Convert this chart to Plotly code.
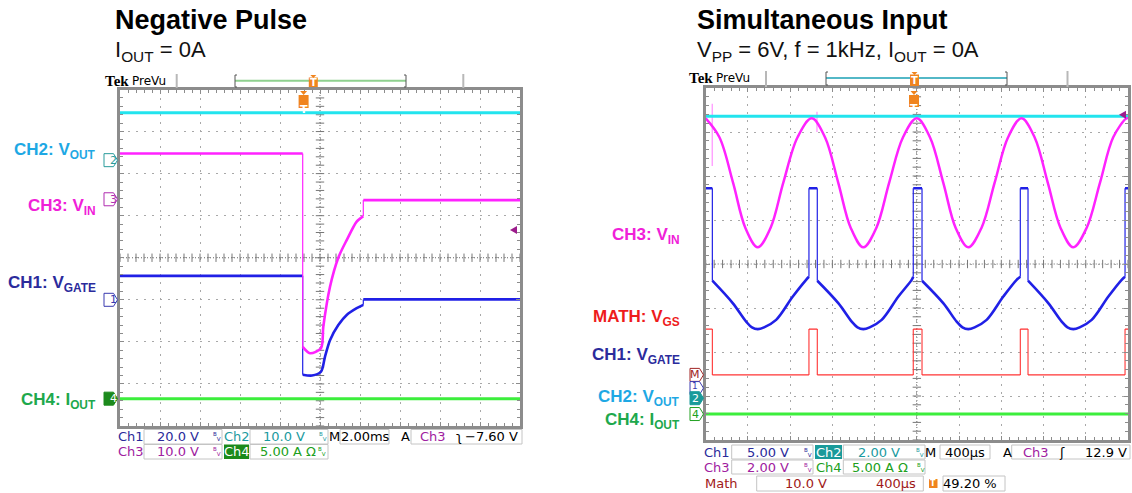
import numpy as np
import plotly.graph_objects as go

W, H = 1132, 493

# ================= DATA =================
# Left screen "Negative Pulse": time in ms from screen centre (2 ms/div), amplitude in screen divisions
L_VOUT_T = [-10.0, 10.0]
L_VOUT_Y = [3.45, 3.45]
L_VIN_T = [-10.0, -0.865, -0.865, -0.5, 0.05, 0.165, 0.5, 0.915, 1.335, 1.835, 2.165, 2.165, 10.0]
L_VIN_Y = [2.48, 2.48, -2.12, -2.27, -2.15, -1.64, -0.69, 0.0, 0.42, 0.86, 0.99, 1.37, 1.37]
L_VGATE_T = [-10.0, -0.865, -0.865, -0.4, 0.05, 0.25, 0.5, 0.915, 1.335, 1.835, 2.165, 2.165, 10.0]
L_VGATE_Y = [-0.43, -0.43, -2.78, -2.80, -2.71, -2.35, -1.96, -1.60, -1.36, -1.20, -1.12, -0.99, -0.99]
L_IOUT_T = [-10.0, 10.0]
L_IOUT_Y = [-3.35, -3.35]
L_MARK_TEXT = ["2", "3", "1", "4"]
L_MARK_Y = [2.32, 1.39, -1.0, -3.35]
L_TRIG_T = -0.82
L_TRIG_LEVEL = 0.66

# Right screen "Simultaneous Input": time in us from screen centre (400 us/div), amplitude in divisions
R_VOUT_T = [-2000, 2000]
R_VOUT_Y = [3.36, 3.36]
R_VIN_T = [-2000, -1870, -1741, -1624, -1507, -1386, -1265, -1130, -996, -870, -745, -626, -507, -384,
           -262, -131, -1, 124, 250, 368, 487, 612, 737, 864, 991, 1115, 1240, 1361, 1482, 1608,
           1735, 1860, 1986, 2000]
R_VIN_Y = [3.31, 2.88, 1.85, 0.82, 0.38, 0.82, 1.85, 2.88, 3.31, 2.88, 1.85, 0.82, 0.38, 0.82,
           1.85, 2.88, 3.31, 2.88, 1.85, 0.82, 0.38, 0.82, 1.85, 2.88, 3.31, 2.88, 1.85, 0.82, 0.38, 0.82,
           1.85, 2.88, 3.31, 3.30]
R_VIN_GLITCH_T = [-1938, -946]
R_VIN_GLITCH_TOP = [3.64, 3.46]
R_VIN_GLITCH_BOT = [2.23, 3.00]
R_VGATE_T = [-2000, -1937, -1937, -1744, -1617, -1562, -1507, -1447, -1333, -1175, -1049, -1022, -1022, -943,
             -943, -744, -617, -562, -507, -447, -333, -175, -49, -34, -34, 49,
             49, 250, 377, 432, 487, 547, 661, 819, 945, 980, 980, 1053,
             1053, 1245, 1372, 1427, 1482, 1542, 1656, 1814, 1940, 1972, 1972, 2000]
R_VGATE_Y = [1.72, 1.72, -0.38, -0.89, -1.31, -1.44, -1.48, -1.44, -1.27, -0.74, -0.36, -0.29, 1.72, 1.72,
             -0.38, -0.89, -1.31, -1.44, -1.48, -1.44, -1.27, -0.74, -0.36, -0.29, 1.72, 1.72,
             -0.38, -0.89, -1.31, -1.44, -1.48, -1.44, -1.27, -0.74, -0.36, -0.29, 1.72, 1.72,
             -0.38, -0.89, -1.31, -1.44, -1.48, -1.44, -1.27, -0.74, -0.36, -0.29, 1.72, 1.72]
R_VGS_T = [-2000, -1937, -1937, -1022, -1022, -943, -943, -34, -34, 49, 49, 980, 980, 1053, 1053, 1972, 1972, 2000]
R_VGS_Y = [-1.48, -1.48, -2.52, -2.52, -1.48, -1.48, -2.52, -2.52, -1.48, -1.48, -2.52, -2.52,
           -1.48, -1.48, -2.52, -2.52, -1.48, -1.48]
R_IOUT_T = [-2000, 2000]
R_IOUT_Y = [-3.41, -3.41]
R_MARK_TEXT = ["M", "1", "2", "4"]
R_MARK_Y = [-2.52, -2.82, -3.05, -3.41]
R_TRIG_T = -27
R_TRIG_LEVEL = 3.39

# ================= FIGURE =================
fig = go.Figure()

C_CYAN = "#22e4ee"
C_MAG = "#ff22ff"
C_BLUE = "#2020e6"
C_GREEN = "#3cee3c"
C_RED = "#ff3333"


def split_edges(t, y):
    thick_t, thick_y, thin_t, thin_y = [], [], [], []
    seg_t, seg_y = [t[0]], [y[0]]
    for i in range(1, len(t)):
        if t[i] == t[i - 1]:
            thin_t += [t[i - 1], t[i], None]
            thin_y += [y[i - 1], y[i], None]
            thick_t += seg_t + [None]
            thick_y += seg_y + [None]
            seg_t, seg_y = [t[i]], [y[i]]
        else:
            seg_t.append(t[i])
            seg_y.append(y[i])
    thick_t += seg_t
    thick_y += seg_y
    return thick_t, thick_y, thin_t, thin_y


def add_channel(t, y, color, width, xa, ya, edge_width=1.2, shape="spline", smoothing=0.8):
    a, b, c, d = split_edges(t, y)
    if c:
        fig.add_trace(go.Scatter(x=c, y=d, mode="lines", line=dict(color=color, width=edge_width),
                                 xaxis=xa, yaxis=ya, hoverinfo="skip", showlegend=False))
    fig.add_trace(go.Scatter(x=a, y=b, mode="lines",
                             line=dict(color=color, width=width, shape=shape, smoothing=smoothing),
                             xaxis=xa, yaxis=ya, hoverinfo="skip", showlegend=False))


# centre-line tick marks (graticule decoration)
def centre_ticks(xa, ya, xmin, xmax, xstep):
    xs = np.arange(xmin, xmax + xstep / 2, xstep)
    ys = np.arange(-4, 4.1, 0.2)
    fig.add_trace(go.Scatter(x=xs, y=np.zeros_like(xs), mode="markers", xaxis=xa, yaxis=ya,
                             marker=dict(symbol="line-ns", size=6, line=dict(color="#777", width=1)),
                             hoverinfo="skip", showlegend=False))
    fig.add_trace(go.Scatter(x=np.zeros_like(ys), y=ys, mode="markers", xaxis=xa, yaxis=ya,
                             marker=dict(symbol="line-ew", size=6, line=dict(color="#777", width=1)),
                             hoverinfo="skip", showlegend=False))


centre_ticks("x", "y", -10, 10, 0.4)
centre_ticks("x2", "y2", -2000, 2000, 80)

# left traces
add_channel(L_IOUT_T, L_IOUT_Y, C_GREEN, 3, "x", "y")
add_channel(L_VGATE_T, L_VGATE_Y, C_BLUE, 2.6, "x", "y")
add_channel(L_VIN_T, L_VIN_Y, C_MAG, 2.6, "x", "y")
add_channel(L_VOUT_T, L_VOUT_Y, C_CYAN, 3, "x", "y")

# right traces
add_channel(R_IOUT_T, R_IOUT_Y, C_GREEN, 3, "x2", "y2")
add_channel(R_VGS_T, R_VGS_Y, C_RED, 1.3, "x2", "y2", edge_width=1.1, shape="linear")
add_channel(R_VGATE_T, R_VGATE_Y, C_BLUE, 2.6, "x2", "y2", smoothing=1.0)
gx, gy = [], []
for t0, top, bot in zip(R_VIN_GLITCH_T, R_VIN_GLITCH_TOP, R_VIN_GLITCH_BOT):
    gx += [t0, t0, None]
    gy += [top, bot, None]
fig.add_trace(go.Scatter(x=gx, y=gy, mode="lines", line=dict(color="#ff99ff", width=1.3),
                         xaxis="x2", yaxis="y2", hoverinfo="skip", showlegend=False))
add_channel(R_VOUT_T, R_VOUT_Y, C_CYAN, 3, "x2", "y2")
add_channel(R_VIN_T, R_VIN_Y, C_MAG, 2.5, "x2", "y2", smoothing=1.0)

# ---------- axes (graticule) ----------
GRID = "#a8a8a8"
BORDER = "#8c8c8c"
common = dict(showgrid=True, gridcolor=GRID, griddash="2px,6px", gridwidth=1, zeroline=False,
              showline=True, linecolor=BORDER, linewidth=3, mirror="allticks", ticks="inside",
              ticklen=4, tickcolor=BORDER, tickwidth=1, showticklabels=False, fixedrange=True)


def minor(d):
    return dict(ticks="inside", dtick=d, ticklen=3, tickcolor=BORDER, showgrid=False)


fig.update_layout(
    width=W, height=H, margin=dict(l=0, r=0, t=0, b=0),
    paper_bgcolor="white", plot_bgcolor="white", showlegend=False, hovermode=False,
    xaxis=dict(domain=[120 / W, 520 / W], range=[-10, 10], dtick=2, tick0=0, minor=minor(0.4), anchor="y", **common),
    yaxis=dict(domain=[1 - 426 / H, 1 - 89.5 / H], range=[-4, 4], dtick=1, tick0=0, minor=minor(0.2), anchor="x", **common),
    xaxis2=dict(domain=[705.7 / W, 1128 / W], range=[-2000, 2000], dtick=400, tick0=0, minor=minor(80), anchor="y2", **common),
    yaxis2=dict(domain=[1 - 440 / H, 1 - 88 / H], range=[-4, 4], dtick=1, tick0=0, minor=minor(0.2), anchor="x2", **common),
)

# centre cross lines
for xa, ya, rng in (("x", "y", 10), ("x2", "y2", 2000)):
    fig.add_shape(type="line", xref=xa, yref=ya, x0=0, x1=0, y0=-4, y1=4,
                  line=dict(color="#666", width=1, dash="1px,2px"), layer="below")
    fig.add_shape(type="line", xref=xa, yref=ya, x0=-rng, x1=rng, y0=0, y1=0,
                  line=dict(color="#666", width=1, dash="1px,2px"), layer="below")


# ---------- helpers ----------
def X(px):
    return px / W


def Y(py):
    return 1 - py / H


def txt(x, y, s, color="black", size=13, family="DejaVu Sans", xanchor="center", yanchor="middle", xref="paper", yref="paper"):
    fig.add_annotation(x=X(x) if xref == "paper" else x, y=Y(y) if yref == "paper" else y,
                       xref=xref, yref=yref, text=s, showarrow=False,
                       font=dict(color=color, size=size, family=family),
                       xanchor=xanchor, yanchor=yanchor, borderpad=0)


def rect(x0, y0, x1, y1, line="#c4c4c4", fill="white", lw=1):
    fig.add_shape(type="rect", xref="paper", yref="paper", x0=X(x0), x1=X(x1), y0=Y(y1), y1=Y(y0),
                  line=dict(color=line, width=lw), fillcolor=fill, layer="above")


def pline(x0, y0, x1, y1, color, lw):
    fig.add_shape(type="line", xref="paper", yref="paper", x0=X(x0), x1=X(x1), y0=Y(y0), y1=Y(y1),
                  line=dict(color=color, width=lw), layer="above")


def path(pts, xref, yref, fill, line=None, lw=0):
    p = "M " + " L ".join(f"{a},{b}" for a, b in pts) + " Z"
    fig.add_shape(type="path", path=p, xref=xref, yref=yref, fillcolor=fill,
                  line=dict(color=line or fill, width=lw), layer="above")


def bw(x, y, color):
    txt(x, y, "<sup>B</sup><sub>V</sub>", color, size=8)


ORANGE = "#f0841e"


def t_tab_paper(xc, ytop, ybot):
    path([(X(xc - 3), Y(ytop)), (X(xc + 3), Y(ytop)), (X(xc), Y(ytop + 3))], "paper", "paper", ORANGE)
    rect(xc - 4.5, ytop + 2.5, xc + 4.5, ybot, line=ORANGE, fill=ORANGE, lw=0)
    txt(xc, (ytop + 2.5 + ybot) / 2 + 0.5, "<b>T</b>", "white", size=10, family="DejaVu Sans")


def t_trigger(xa, tdata, px_per_unit, ytop, ybot):
    dx = 5 / px_per_unit
    dt = 3.5 / px_per_unit
    path([(tdata - dt, Y(ytop)), (tdata + dt, Y(ytop)), (tdata, Y(ytop + 4))], xa, "paper", ORANGE)
    fig.add_shape(type="rect", xref=xa, yref="paper", x0=tdata - dx, x1=tdata + dx, y0=Y(ybot), y1=Y(ytop + 4),
                  fillcolor=ORANGE, line=dict(color=ORANGE, width=0), layer="above")
    fig.add_annotation(x=tdata, y=Y((ytop + 4 + ybot) / 2 + 0.5), xref=xa, yref="paper", text="<b>T</b>",
                       showarrow=False, font=dict(color="white", size=11, family="DejaVu Sans"), borderpad=0)


def tag(x0, ydiv, ya, label, color, filled, px_per_div, text_dy=0.0, text_size=11):
    h = 6.5 / px_per_div
    pts = [(X(x0), ydiv + h), (X(x0 + 9.5), ydiv + h), (X(x0 + 13.5), ydiv), (X(x0 + 9.5), ydiv - h), (X(x0), ydiv - h)]
    path(pts, "paper", ya, color if filled else "white", line=color, lw=1)
    fig.add_annotation(x=X(x0 + 5.3), y=ydiv + text_dy / px_per_div, xref="paper", yref=ya, text=label, showarrow=False,
                       font=dict(color="white" if filled else color, size=text_size, family="DejaVu Sans"), borderpad=0)


def trig_level(xr_px, ydiv, ya, px_per_div):
    h = 4 / px_per_div
    path([(X(xr_px - 7), ydiv), (X(xr_px), ydiv + h), (X(xr_px), ydiv - h)], "paper", ya, "#9c1c8c")


# ---------- titles ----------
TF = "Liberation Sans, Arial, sans-serif"
txt(114, 20, "<b>Negative Pulse</b>", "black", 27, TF, xanchor="left")
txt(114, 51, "I<sub>OUT</sub> = 0A", "#111", 22, TF, xanchor="left")
txt(696, 20, "<b>Simultaneous Input</b>", "black", 27, TF, xanchor="left")
txt(696, 51, "V<sub>PP</sub> = 6V, f = 1kHz, I<sub>OUT</sub> = 0A", "#111", 22, TF, xanchor="left")

# ---------- channel labels ----------
LB_CYAN = "#1ea8e4"
LB_MAG = "#f020d8"
LB_NAVY = "#2b2b9c"
LB_GREEN = "#20a84c"
LB_RED = "#ee1c1c"
for s, yy, col in (("CH2: V<sub>OUT</sub>", 151, LB_CYAN), ("CH3: V<sub>IN</sub>", 207, LB_MAG),
                   ("CH1: V<sub>GATE</sub>", 284, LB_NAVY), ("CH4: I<sub>OUT</sub>", 401, LB_GREEN)):
    txt(97, yy, "<b>" + s + "</b>", col, 17, TF, xanchor="right")
for s, yy, col in (("CH3: V<sub>IN</sub>", 236, LB_MAG), ("MATH: V<sub>GS</sub>", 318, LB_RED),
                   ("CH1: V<sub>GATE</sub>", 356, LB_NAVY), ("CH2: V<sub>OUT</sub>", 398, LB_CYAN),
                   ("CH4: I<sub>OUT</sub>", 421, LB_GREEN)):
    txt(681, yy, "<b>" + s + "</b>", col, 17, TF, xanchor="right")

# ---------- channel offset tags ----------
L_TAG_COL = {"2": ("#2a9c9c", False), "3": ("#b02cb0", False), "1": ("#3a3ab0", False), "4": ("#1c8a1c", True)}
for lab, yd in zip(L_MARK_TEXT, L_MARK_Y):
    col, fil = L_TAG_COL[lab]
    tag(104, yd, "y", lab, col, fil, 42.06)
R_TAG_COL = {"M": ("#a02424", False), "1": ("#3a3ab0", False), "2": ("#1a9a9a", True), "4": ("#20a020", False)}
for lab, yd in zip(R_MARK_TEXT, R_MARK_Y):
    col, fil = R_TAG_COL[lab]
    if lab == "1":
        tag(690, yd, "y2", lab, col, fil, 44.0, text_dy=2.5, text_size=9)
    else:
        tag(690, yd, "y2", lab, col, fil, 44.0)

trig_level(517, L_TRIG_LEVEL, "y", 42.06)
trig_level(1126, R_TRIG_LEVEL, "y2", 44.0)

# ---------- header bars ----------
txt(104, 81, "<b>Tek</b>", "black", 15, "Liberation Serif", xanchor="left")
txt(131, 81, "PreVu", "black", 12, "DejaVu Sans", xanchor="left")
pline(176.7, 74, 176.7, 88, "#b8b8b8", 2)
pline(463.3, 74, 463.3, 88, "#b8b8b8", 2)
pline(235, 80.7, 406, 80.7, "#8fd08f", 2)
for xb, d in ((235, 2), (406, -2)):
    pline(xb, 75, xb, 87, "#555", 1)
    pline(xb, 75, xb + d, 75, "#555", 1)
    pline(xb, 87, xb + d, 87, "#555", 1)
t_tab_paper(313.3, 75, 87)
t_trigger("x", L_TRIG_T, 20.0, 91, 108)

txt(688, 78, "<b>Tek</b>", "black", 15, "Liberation Serif", xanchor="left")
txt(715, 78, "PreVu", "black", 12, "DejaVu Sans", xanchor="left")
pline(766, 71, 766, 87, "#b8b8b8", 2)
pline(1067.5, 71, 1067.5, 87, "#b8b8b8", 2)
pline(826, 78, 1007, 78, "#1aa0b4", 1.5)
for xb, d in ((826, 2), (1007, -2)):
    pline(xb, 72, xb, 85, "#555", 1)
    pline(xb, 72, xb + d, 72, "#555", 1)
    pline(xb, 85, xb + d, 85, "#555", 1)
t_tab_paper(914.5, 72, 86)
t_trigger("x2", R_TRIG_T, 0.10558, 91, 107)

# ---------- readouts: left ----------
NAVY = "#2a2a9a"
TEAL = "#1a9aa0"
PURP = "#a020a0"
GRN = "#20a020"
DRED = "#a01818"
r1, r2 = 436.5, 451.5
txt(131, r1, "Ch1", NAVY)
rect(144, 429.5, 222, 444)
txt(178, r1, "20.0 V", NAVY)
bw(217, r1, NAVY)
txt(237, r1, "Ch2", TEAL)
rect(250, 429.5, 328, 444)
txt(284, r1, "10.0 V", TEAL)
bw(323, r1, TEAL)
txt(334, r1, "M", "black")
rect(340, 429.5, 389, 444)
txt(365, r1, "2.00ms", "black")
txt(405, r1, "A", "black")
rect(411, 429.5, 522, 444)
txt(433, r1, "Ch3", PURP)
txt(459, r1, "ʅ", "black")
txt(519, r1, "−7.60 V", "black", xanchor="right")

txt(131, r2, "Ch3", PURP)
rect(144, 444.5, 222, 459)
txt(178, r2, "10.0 V", PURP)
bw(217, r2, PURP)
rect(224, 444.5, 249, 459, line="#1b8a1b", fill="#1b8a1b", lw=0)
txt(236.5, r2, "Ch4", "white")
rect(250, 444.5, 328, 459)
txt(288, r2, "5.00 A Ω", GRN)
bw(322, r2, GRN)

# ---------- readouts: right ----------
q1, q2, q3 = 452, 467, 483.5
txt(717, q1, "Ch1", NAVY)
rect(731.7, 445, 813, 459)
txt(768, q1, "5.00 V", NAVY)
bw(808, q1, NAVY)
rect(815, 445, 842, 459, line="#1a9a9a", fill="#1a9a9a", lw=0)
txt(828.5, q1, "Ch2", "white")
rect(843.3, 445, 925, 459)
txt(879, q1, "2.00 V", TEAL)
bw(920, q1, TEAL)
txt(930.5, q1, "M", "black")
rect(940, 445, 990, 459)
txt(965, q1, "400µs", "black")
txt(1007, q1, "A", "black")
rect(1011.7, 445, 1130, 459)
txt(1036, q1, "Ch3", PURP)
txt(1062, q1, "ʃ", "black")
txt(1128, q1, "12.9 V", "black", xanchor="right")

txt(717, q2, "Ch3", PURP)
rect(731.7, 460, 813, 474)
txt(768, q2, "2.00 V", PURP)
bw(808, q2, PURP)
txt(829, q2, "Ch4", GRN)
rect(843.3, 460, 925, 474)
txt(880, q2, "5.00 A Ω", GRN)
bw(921, q2, GRN)

txt(721.5, q3, "Math", DRED)
rect(756.7, 476, 923.3, 491)
txt(806, q3, "10.0 V", DRED)
txt(896, q3, "400µs", DRED)
rect(929, 479, 937.5, 488, line=ORANGE, fill=ORANGE, lw=0)
txt(933.2, q3, "<b>T</b>", "white", size=8)
rect(943, 476, 1005, 491)
txt(970, q3, "49.20 %", "black")

fig.write_html("out.html")
